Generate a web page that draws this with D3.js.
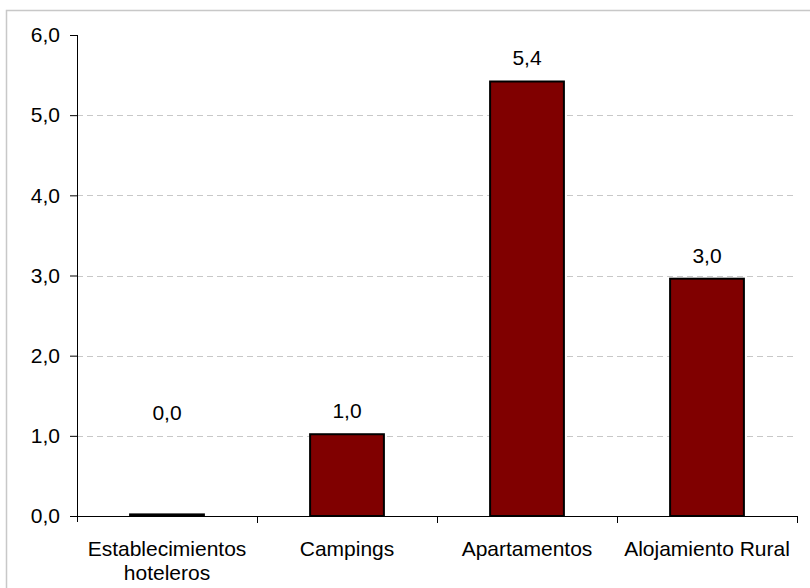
<!DOCTYPE html>
<meta charset="utf-8">
<head>
  <script src="https://d3js.org/d3.v7.min.js"></script>
</head>
<body style="margin:0">
  <div id="chart"></div>

  <style>
    #chart text {
      font-family: "Liberation Sans", Arial, sans-serif;
      font-size: 21px;
      fill: #000;
    }
  </style>

  <script>
    "use strict"

    // datos
    var categorias = [["Establecimientos", "hoteleros"], ["Campings"], ["Apartamentos"], ["Alojamiento Rural"]];
    var valores = [0.02, 1.02, 5.42, 2.96];
    var etiquetas = ["0,0", "1,0", "5,4", "3,0"];
    var ticksY = [0, 1, 2, 3, 4, 5, 6];

    var anchoSVG = 810, altoSVG = 588;
    var margin = {top: 35, right: 13, bottom: 72, left: 77},
        anchoVis = anchoSVG - margin.left - margin.right,
        altoVis = altoSVG - margin.top - margin.bottom;

    var svg = d3.select('#chart')
                .append('svg')
                  .attr('width', anchoSVG)
                  .attr('height', altoSVG);

    // borde exterior (cortado a la derecha y abajo)
    svg.append('rect')
       .attr('x', 6.5).attr('y', 10.5)
       .attr('width', anchoSVG + 20).attr('height', altoSVG + 20)
       .attr('fill', 'none')
       .attr('stroke', '#c8c8c8')
       .attr('stroke-width', 1.5);

    var grafico = svg.append('g')
                     .attr('transform', 'translate(' + margin.left + ',' + margin.top + ')');

    var x = d3.scaleBand()
              .domain(d3.range(categorias.length))
              .range([0, anchoVis])
              .paddingInner(0.59)
              .paddingOuter(0.295);

    var xCat = d3.scaleBand()
              .domain(d3.range(categorias.length))
              .range([0, anchoVis]);

    var y = d3.scaleLinear()
              .domain([0, 6])
              .range([altoVis, 0]);

    // lineas de cuadricula
    grafico.selectAll('line.grid')
           .data(ticksY.filter(d => d > 0 && d < 6))
           .enter()
           .append('line')
           .attr('class', 'grid')
           .attr('x1', 0).attr('x2', anchoVis)
           .attr('y1', d => Math.round(y(d)) + 0.5)
           .attr('y2', d => Math.round(y(d)) + 0.5)
           .attr('stroke', '#c8c8c8')
           .attr('stroke-dasharray', '6,4');

    // barras
    grafico.selectAll('rect.barra')
           .data(valores)
           .enter()
           .append('rect')
           .attr('class', 'barra')
           .attr('x', (d, i) => x(i))
           .attr('width', x.bandwidth())
           .attr('y', d => y(d))
           .attr('height', d => altoVis - y(d))
           .attr('fill', '#800000')
           .attr('stroke', '#000')
           .attr('stroke-width', 2);

    // etiquetas de valores
    grafico.selectAll('text.valor')
           .data(valores)
           .enter()
           .append('text')
           .attr('class', 'valor')
           .attr('x', (d, i) => x(i) + x.bandwidth() / 2)
           .attr('y', d => y(Math.max(d, 1.0)) - 16)
           .attr('text-anchor', 'middle')
           .text((d, i) => etiquetas[i]);

    // eje Y
    var ejeY = grafico.append('g')
           .call(d3.axisLeft(y).tickValues(ticksY).tickSize(7).tickPadding(10)
                 .tickFormat(d => d3.format('.1f')(d).replace('.', ',')));
    ejeY.select('.domain').attr('stroke', '#000').attr('d', 'M0.5,0V' + (altoVis + 6));
    ejeY.selectAll('.tick line').attr('stroke', '#000');

    // eje X
    var ejeX = grafico.append('g')
           .attr('transform', 'translate(0,' + altoVis + ')');
    ejeX.append('line')
        .attr('x1', 0).attr('x2', anchoVis)
        .attr('y1', 0.5).attr('y2', 0.5)
        .attr('stroke', '#000');
    ejeX.selectAll('line.tick')
        .data(d3.range(categorias.length))
        .enter()
        .append('line')
        .attr('class', 'tick')
        .attr('x1', d => xCat(d) + xCat.bandwidth() + 0.5)
        .attr('x2', d => xCat(d) + xCat.bandwidth() + 0.5)
        .attr('y1', 0).attr('y2', 7)
        .attr('stroke', '#000');

    ejeX.selectAll('text.cat')
        .data(categorias)
        .enter()
        .append('text')
        .attr('class', 'cat')
        .attr('text-anchor', 'middle')
        .attr('x', (d, i) => xCat(i) + xCat.bandwidth() / 2)
        .attr('y', 40)
        .selectAll('tspan')
        .data(d => d)
        .enter()
        .append('tspan')
        .attr('x', function() { return d3.select(this.parentNode).attr('x'); })
        .attr('dy', (d, i) => i === 0 ? 0 : 24)
        .text(d => d);
  </script>
</body>
</html>
